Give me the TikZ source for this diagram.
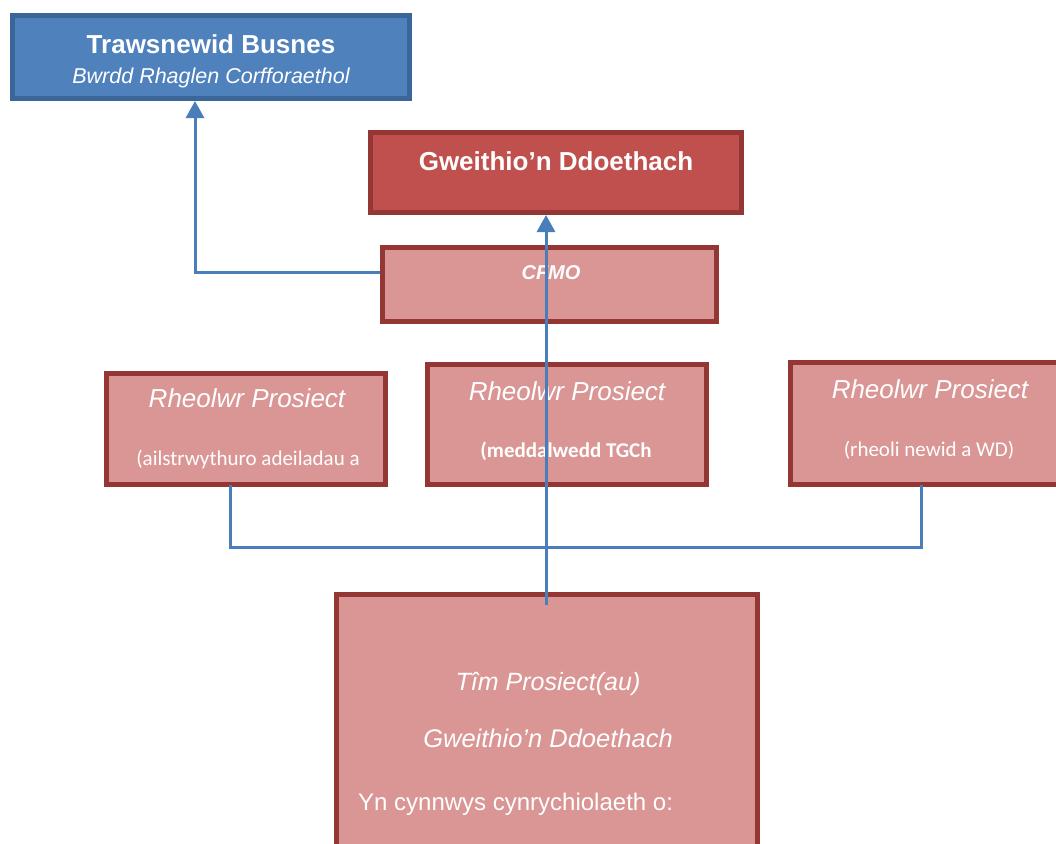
\documentclass[tikz,border=0pt]{standalone}
\usepackage{fontspec}
\setmainfont{Liberation Sans}
\newfontfamily\carl{Carlito}
\usetikzlibrary{arrows.meta}
\definecolor{blueFill}{HTML}{4F81BD}
\definecolor{blueBorder}{HTML}{3A669A}
\definecolor{redFill}{HTML}{C0504D}
\definecolor{redBorder}{HTML}{943634}
\definecolor{pinkFill}{HTML}{D99694}
\definecolor{lineBlue}{HTML}{4A7EBB}
\tikzset{
  boxbase/.style={rectangle, line width=5pt, inner sep=0pt},
  bluebox/.style={boxbase, draw=blueBorder, fill=blueFill},
  redbox/.style={boxbase, draw=redBorder, fill=redFill},
  pinkbox/.style={boxbase, draw=redBorder, fill=pinkFill},
  txt/.style={text=white, inner sep=0pt, anchor=base},
  conn/.style={draw=lineBlue, line width=3pt},
  arr/.style={conn, -{Triangle[width=18pt,length=17pt]}}
}
\begin{document}
\begin{tikzpicture}[x=1pt,y=-1pt]
\useasboundingbox (0,0) rectangle (1056,843);
\clip (0,0) rectangle (1056,843);
\fill[white] (0,0) rectangle (1056,843);

% boxes
\node[bluebox, minimum width=397pt, minimum height=83pt] (tb) at (211,57) {};
\node[redbox, minimum width=371pt, minimum height=80pt] (gd) at (556,172.5) {};
\node[pinkbox, minimum width=334pt, minimum height=74pt] (cfmo) at (549.5,284.5) {};
\node[pinkbox, minimum width=279pt, minimum height=111pt] (lr) at (246,429) {};
\node[pinkbox, minimum width=279pt, minimum height=120pt] (mr) at (567,424.5) {};
\node[pinkbox, minimum width=277pt, minimum height=122pt] (rr) at (929,423.5) {};
\node[pinkbox, minimum width=421pt, minimum height=263pt] (tim) at (547,726) {};

% texts
\node[txt, font=\fontsize{26}{30}\selectfont\bfseries] (tbt) at (211,53) {Trawsnewid Busnes};
\node[txt, font=\fontsize{21.5}{25}\selectfont\itshape] (tbs) at (211,83) {Bwrdd Rhaglen Corfforaethol};
\node[txt, font=\fontsize{26}{30}\selectfont\bfseries] (gdt) at (556,170) {Gweithio’n Ddoethach};
\node[txt, font=\fontsize{20}{24}\selectfont\bfseries\itshape] (cft) at (551,279) {CFMO};
\node[txt, font=\fontsize{26}{30}\selectfont\itshape] (lrt) at (247,407) {Rheolwr Prosiect};
\node[txt, font=\fontsize{21}{25}\selectfont\carl] (lrs) at (248,465) {(ailstrwythuro adeiladau a};
\node[txt, font=\fontsize{26}{30}\selectfont\itshape] (mrt) at (567,400) {Rheolwr Prosiect};
\node[txt, font=\fontsize{21}{25}\selectfont\carl\bfseries] (mrs) at (566,457) {(meddalwedd TGCh};
\node[txt, font=\fontsize{26}{30}\selectfont\itshape] (rrt) at (930,398) {Rheolwr Prosiect};
\node[txt, font=\fontsize{21}{25}\selectfont\carl] (rrs) at (929,456) {(rheoli newid a WD)};
\node[txt, font=\fontsize{25}{30}\selectfont\itshape] (timt) at (548,690) {Tîm Prosiect(au)};
\node[txt, font=\fontsize{25.5}{30}\selectfont\itshape] (tims) at (548,747) {Gweithio’n Ddoethach};
\node[txt, anchor=base west, font=\fontsize{24}{28}\selectfont] (timc) at (358,810) {Yn cynnwys cynrychiolaeth o:};

% connectors
\coordinate (xa) at (195,0);
\draw[arr] ([yshift=12.5pt]cfmo.west) -| (tb.south -| xa);
\coordinate (s2) at (546,605);
\draw[arr] (s2) -- (s2 |- gd.south);
\coordinate (hb) at (0,547);
\coordinate (pa) at (230,484.5);
\coordinate (pb) at (921,484.5);
\draw[conn] (pa) -- (pa |- hb) -- (pb |- hb) -- (pb);
\end{tikzpicture}
\end{document}
